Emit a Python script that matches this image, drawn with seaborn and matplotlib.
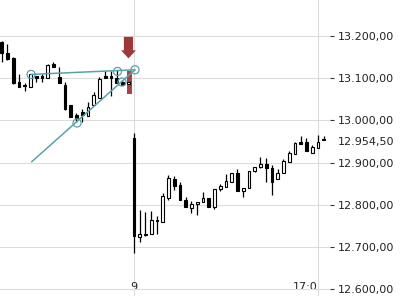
import matplotlib
matplotlib.use("Agg")
import matplotlib.pyplot as plt
import matplotlib.transforms as mtransforms
from matplotlib.ticker import FuncFormatter
import numpy as np
import pandas as pd
import seaborn as sns

# ---- data (15-minute bars; index 0 = 9:00 of the current session) ----
bar_index = list(range(-23, 34))
opens = [13186, 13159, 13149, 13090, 13083, 13080, 13105, 13106, 13101, 13133,
         13104, 13084, 13037, 13013, 13019, 13011, 13037, 13052, 13106, 13105,
         13100, 13090, 13087,
         12958, 12725, 12728, 12730, 12764, 12760, 12817, 12861, 12847, 12812,
         12792, 12802, 12806, 12817, 12796, 12837, 12843, 12855, 12875, 12834,
         12839, 12881, 12890, 12897, 12887, 12861, 12875, 12902, 12920, 12950,
         12950, 12924, 12935, 12957]
highs = [13188, 13180, 13150, 13110, 13088, 13110, 13105, 13109, 13134, 13139,
         13127, 13090, 13037, 13017, 13027, 13044, 13067, 13102, 13118, 13117,
         13119, 13096, 13092,
         12970, 12788, 12782, 12786, 12774, 12829, 12871, 12869, 12855, 12818,
         12809, 12807, 12831, 12817, 12837, 12850, 12873, 12875, 12884, 12839,
         12881, 12889, 12914, 12912, 12895, 12885, 12908, 12928, 12948, 12964,
         12958, 12942, 12966, 12964]
lows = [13138, 13144, 13086, 13080, 13070, 13080, 13092, 13092, 13101, 13126,
        13089, 13025, 13009, 12996, 12996, 13011, 13037, 13052, 13101, 13059,
        13088, 13084, 13087,
        12685, 12713, 12726, 12730, 12731, 12760, 12812, 12835, 12812, 12794,
        12780, 12776, 12806, 12796, 12791, 12834, 12843, 12855, 12834, 12818,
        12839, 12877, 12888, 12855, 12823, 12861, 12875, 12902, 12920, 12944,
        12928, 12924, 12935, 12954]
closes = [13159, 13146, 13088, 13080, 13082, 13109, 13100, 13100, 13131, 13126,
          13089, 13027, 13009, 13005, 13013, 13032, 13060, 13098, 13101, 13100,
          13088, 13084, 13092,
          12726, 12730, 12732, 12764, 12762, 12821, 12863, 12845, 12812, 12794,
          12802, 12807, 12817, 12796, 12837, 12845, 12856, 12875, 12834, 12839,
          12881, 12889, 12898, 12887, 12855, 12875, 12904, 12922, 12946, 12944,
          12928, 12936, 12948, 12954.5]

x_tick_positions = [0, 32]
x_tick_labels = ["9", "17:0"]
y_ticks = [12600, 12700, 12800, 12900, 13000, 13100, 13200]
last_price = 12954.5

# drawing annotations (pattern lines / pivots / signal)
trend_x = [-17.8, 0.17]
trend_y = [12902, 13120]
flat_x = [-17.9, 0.17]
flat_y = [13109, 13120]
pivot_x = [-17.9, -2.87, 0.17, -9.9, -2.09]
pivot_y = [13109, 13116, 13120, 12994, 13091]
arrow_x = -0.96
arrow_top = 13198
arrow_tip = 13147
signal_x = -0.85
signal_low = 13062
signal_high = 13118

df = pd.DataFrame({"i": bar_index, "open": opens, "high": highs,
                   "low": lows, "close": closes})

# ---- style ----
sns.set_theme(style="white")
plt.rcParams["font.family"] = ["DejaVu Sans"]

W, H = 400, 300
fig = plt.figure(figsize=(4, 3), dpi=100)
fig.patch.set_facecolor("white")
ax_right_px = 330
ax_bottom_px = 296
ax = fig.add_axes([0, (H - ax_bottom_px) / H, ax_right_px / W, ax_bottom_px / H])

px_per_bar = 5.75
x0_px = 134.0
px_per_unit = 0.4222
ax.set_xlim(-x0_px / px_per_bar, (ax_right_px - x0_px) / px_per_bar)
ax.set_ylim(13200 - (ax_bottom_px - 36) / px_per_unit, 13200 + 36 / px_per_unit)

for s in ax.spines.values():
    s.set_visible(False)

grid_c = "#dcdcdc"
ax.set_yticks(y_ticks)
ax.set_xticks(x_tick_positions)
ax.set_xticklabels(x_tick_labels)
ax.grid(True, color=grid_c, linewidth=0.8, zorder=0)
ax.set_axisbelow(True)


def de_fmt(v):
    return f"{v:,.2f}".replace(",", "X").replace(".", ",").replace("X", ".")


ax.yaxis.tick_right()
ax.yaxis.set_major_formatter(FuncFormatter(lambda v, p: de_fmt(v)))
ax.tick_params(axis="y", direction="out", length=2.9, width=0.8, color="#333333",
               pad=2.9, labelsize=8, labelcolor="#222222")
ax.tick_params(axis="x", direction="in", length=4.3, width=0.8, color="#333333",
               pad=-10, labelsize=8, labelcolor="#222222")
for lbl in ax.get_xticklabels():
    if lbl.get_text() == "17:0":
        lbl.set_horizontalalignment("right")

# ---- signal bar and arrow ----
ax.bar(signal_x, signal_high - signal_low, bottom=signal_low, width=0.87,
       color="#a64545", linewidth=0, zorder=2)
ax.arrow(arrow_x, arrow_top, 0, arrow_tip - arrow_top, width=1.6, head_width=2.6,
         head_length=19, length_includes_head=True, color="#9c3a3a", lw=0, zorder=5)

# ---- candles ----
up = df["close"] >= df["open"]
ax.vlines(df["i"], df["low"], df["high"], color="black", linewidth=0.9, zorder=3)
body_bottom = np.minimum(df["open"], df["close"])
body_h = np.maximum(np.abs(df["close"] - df["open"]), 1.2)
ax.bar(df["i"], body_h, bottom=body_bottom, width=0.52,
       color=np.where(up, "white", "black"), edgecolor="black", linewidth=0.8,
       zorder=3.5)

# ---- pattern drawing ----
teal = "#5aa2a8"
ax.plot(trend_x, trend_y, color=teal, linewidth=1.1, zorder=4)
ax.plot(flat_x, flat_y, color=teal, linewidth=1.1, zorder=4)
ax.scatter(pivot_x, pivot_y, s=34, facecolors="none", edgecolors=teal,
           linewidths=0.9, zorder=4.5)

# ---- last price label ----
trans = mtransforms.blended_transform_factory(ax.transAxes, ax.transData)
trans = trans + mtransforms.ScaledTranslation(0, -2.5 / 100, fig.dpi_scale_trans)
ax.text(338 / ax_right_px, last_price, de_fmt(last_price),
        transform=trans, ha="left", va="center", fontsize=8, color="#222222")

fig.savefig("out.png", dpi=100)
